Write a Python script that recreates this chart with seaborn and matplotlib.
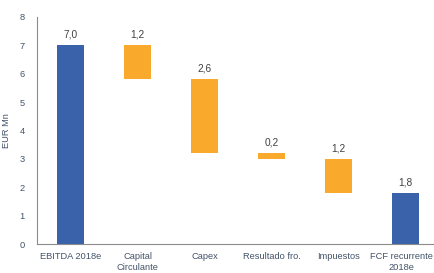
import matplotlib
matplotlib.use("Agg")
import matplotlib.pyplot as plt
import matplotlib.transforms as mtransforms
import seaborn as sns
import numpy as np
import pandas as pd

categories = ["EBITDA 2018e", "Capital\nCirculante", "Capex", "Resultado fro.", "Impuestos", "FCF recurrente\n2018e"]
values = [7.0, 1.2, 2.6, 0.2, 1.2, 1.8]
bar_type = ["total", "delta", "delta", "delta", "delta", "total"]
value_labels = ["7,0", "1,2", "2,6", "0,2", "1,2", "1,8"]
y_ticks = [0, 1, 2, 3, 4, 5, 6, 7, 8]

# waterfall bases derived from the values
bottoms = []
level = 0.0
for v, t in zip(values, bar_type):
    if t == "total":
        bottoms.append(0.0)
        level = v
    else:
        level = level - v
        bottoms.append(level)
tops = [b + v for b, v in zip(bottoms, values)]

sns.set_theme(style="white")
plt.rcParams["font.family"] = ["Liberation Sans", "DejaVu Sans"]

BLUE = "#3A62AB"
ORANGE = "#F9AA2C"
TEXT = "#44546A"

df = pd.DataFrame({"cat": categories, "top": tops, "base": bottoms, "type": bar_type})

fig = plt.figure(figsize=(4.34, 2.73), dpi=100)
ax = fig.add_axes([37 / 434, 1 - 244 / 273, (437 - 37) / 434, (244 - 17) / 273])

sns.barplot(data=df, x="cat", y="top", hue="type", palette={"total": BLUE, "delta": ORANGE},
            width=0.4, dodge=False, legend=False, ax=ax, saturation=1, linewidth=0)
sns.barplot(data=df, x="cat", y="base", color="white", width=0.42, ax=ax, saturation=1, linewidth=0)

for i, (t, lab) in enumerate(zip(tops, value_labels)):
    ax.annotate(lab, (i, t), xytext=(0, 4), textcoords="offset points",
                ha="center", va="bottom", fontsize=7.3, color="#404040")

ax.set_ylim(0, 8)
ax.set_xlim(-0.5, 5.47)
ax.set_yticks(y_ticks)
ax.set_yticklabels([str(v) for v in y_ticks])
ax.tick_params(axis="both", length=0, labelsize=6.7, colors=TEXT)
ax.tick_params(axis="y", pad=9)
ax.tick_params(axis="x", pad=6)
ax.set_xlabel("")
ax.set_ylabel("EUR Mn", fontsize=6.7, color=TEXT, labelpad=6)
for s in ["top", "right"]:
    ax.spines[s].set_visible(False)
for s in ["left", "bottom"]:
    ax.spines[s].set_color("#8c8c8c")
    ax.spines[s].set_linewidth(0.8)

# nudge the last category label so it stays inside the canvas
last = ax.get_xticklabels()[-1]
last.set_transform(last.get_transform() + mtransforms.ScaledTranslation(-4 / 100, 0, fig.dpi_scale_trans))

fig.savefig("out.png", dpi=100)
